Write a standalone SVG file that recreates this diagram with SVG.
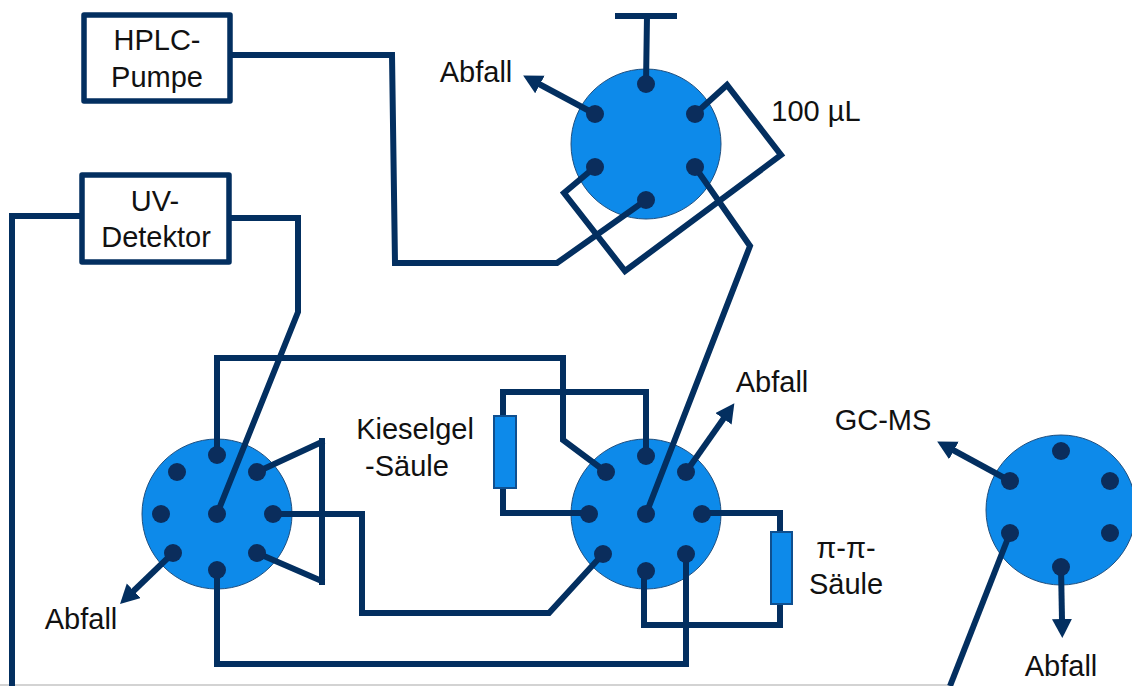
<svg xmlns="http://www.w3.org/2000/svg" width="1132" height="686" viewBox="0 0 1132 686">
<style>
.t{font-family:"Liberation Sans",Arial,sans-serif;font-size:29px;fill:#111;text-anchor:middle}
.c{fill:#0d8aea;stroke:#1f4f7f;stroke-width:1}
.d{fill:#0b2d5c}
.l{fill:none;stroke:#032f60;stroke-width:6;stroke-linejoin:miter}
.b{fill:#fff;stroke:#032f60;stroke-width:5.5;stroke-linejoin:round}
.r{fill:#0d8aea;stroke:#0f4f8f;stroke-width:2}
</style>
<defs>
<marker id="a" markerUnits="userSpaceOnUse" markerWidth="22" markerHeight="22" refX="1" refY="10" orient="auto"><path d="M0 0L19 10L0 20Z" fill="#032f60"/></marker>
</defs>
<rect width="1132" height="686" fill="#fff"/>
<path d="M0 685H950" stroke="#c4c4c4" stroke-width="1.5" fill="none"/>
<g id="valve-top"><circle class="c" cx="646" cy="144" r="75"/></g>
<g id="valve-left"><circle class="c" cx="217" cy="514" r="75"/></g>
<g id="valve-right"><circle class="c" cx="646" cy="514" r="75"/></g>
<g id="valve-far-right"><circle class="c" cx="1061" cy="510" r="75"/></g>
<g id="connectors">
<path class="l" d="M615 16H677M647 16L646 84"/>
<path class="l" marker-end="url(#a)" d="M595 114L539 84"/>
<path class="l" d="M695 114L727 85L781 155L625 271L564 193L595 167"/>
<path class="l" d="M646 200L557 263H395L392 55H232"/>
<path class="l" d="M695 167L750 246L646 514"/>
<path class="l" d="M217 455V358H563V440L606 472"/>
<path class="l" d="M217 514L298 312V218H230"/>
<path class="l" d="M82 216H12V686"/>
<path class="l" d="M257 472L324 441M322 438V585M257 553L324 582"/>
<path class="l" d="M273 514H362V613H549L603 554"/>
<path class="l" d="M217 570V664H686V554"/>
<path class="l" marker-end="url(#a)" d="M173 553L133 591.5"/>
<path class="l" d="M646 456V392H503V416M503 488V513H589"/>
<path class="l" d="M702 513H780V532M780 604V625H644V571"/>
<path class="l" marker-end="url(#a)" d="M686 472L724 418"/>
<path class="l" marker-end="url(#a)" d="M1010 481L953 450"/>
<path class="l" marker-end="url(#a)" d="M1061 567L1062 620"/>
<path class="l" d="M1010 533L950 686"/>
</g>
<g id="dots-top" class="d"><circle cx="646" cy="84" r="9"/><circle cx="595" cy="114" r="9"/><circle cx="695" cy="114" r="9"/><circle cx="595" cy="167" r="9"/><circle cx="695" cy="167" r="9"/><circle cx="646" cy="200" r="9"/></g>
<g id="dots-left" class="d"><circle cx="217" cy="455" r="9"/><circle cx="177" cy="472" r="9"/><circle cx="257" cy="472" r="9"/><circle cx="161" cy="514" r="9"/><circle cx="217" cy="514" r="9"/><circle cx="273" cy="514" r="9"/><circle cx="173" cy="553" r="9"/><circle cx="257" cy="553" r="9"/><circle cx="217" cy="570" r="9"/></g>
<g id="dots-right" class="d"><circle cx="646" cy="456" r="9"/><circle cx="606" cy="472" r="9"/><circle cx="686" cy="472" r="9"/><circle cx="589" cy="514" r="9"/><circle cx="646" cy="514" r="9"/><circle cx="702" cy="514" r="9"/><circle cx="603" cy="554" r="9"/><circle cx="686" cy="554" r="9"/><circle cx="646" cy="571" r="9"/></g>
<g id="dots-far-right" class="d"><circle cx="1061" cy="451" r="9"/><circle cx="1010" cy="481" r="9"/><circle cx="1110" cy="481" r="9"/><circle cx="1010" cy="533" r="9"/><circle cx="1110" cy="533" r="9"/><circle cx="1061" cy="567" r="9"/></g>
<g id="hplc"><rect class="b" x="84" y="15" width="146" height="86"/><text class="t" x="157" y="50">HPLC-</text><text class="t" x="157" y="87">Pumpe</text></g>
<g id="uv"><rect class="b" x="82" y="175" width="147" height="87"/><text class="t" x="155" y="211">UV-</text><text class="t" x="156" y="247">Detektor</text></g>
<g id="column-si"><rect class="r" x="494" y="416" width="22" height="72"/></g>
<g id="column-pi"><rect class="r" x="771" y="532" width="21" height="72"/></g>
<g id="labels">
<text class="t" x="476" y="82">Abfall</text>
<text class="t" x="816" y="121">100 µL</text>
<text class="t" x="415" y="439">Kieselgel</text>
<text class="t" x="407" y="476">-Säule</text>
<text class="t" x="772" y="392">Abfall</text>
<text class="t" x="883" y="430">GC-MS</text>
<text class="t" x="846" y="558">π-π-</text>
<text class="t" x="846" y="594">Säule</text>
<text class="t" x="81" y="629">Abfall</text>
<text class="t" x="1061" y="676">Abfall</text>
</g>
</svg>
